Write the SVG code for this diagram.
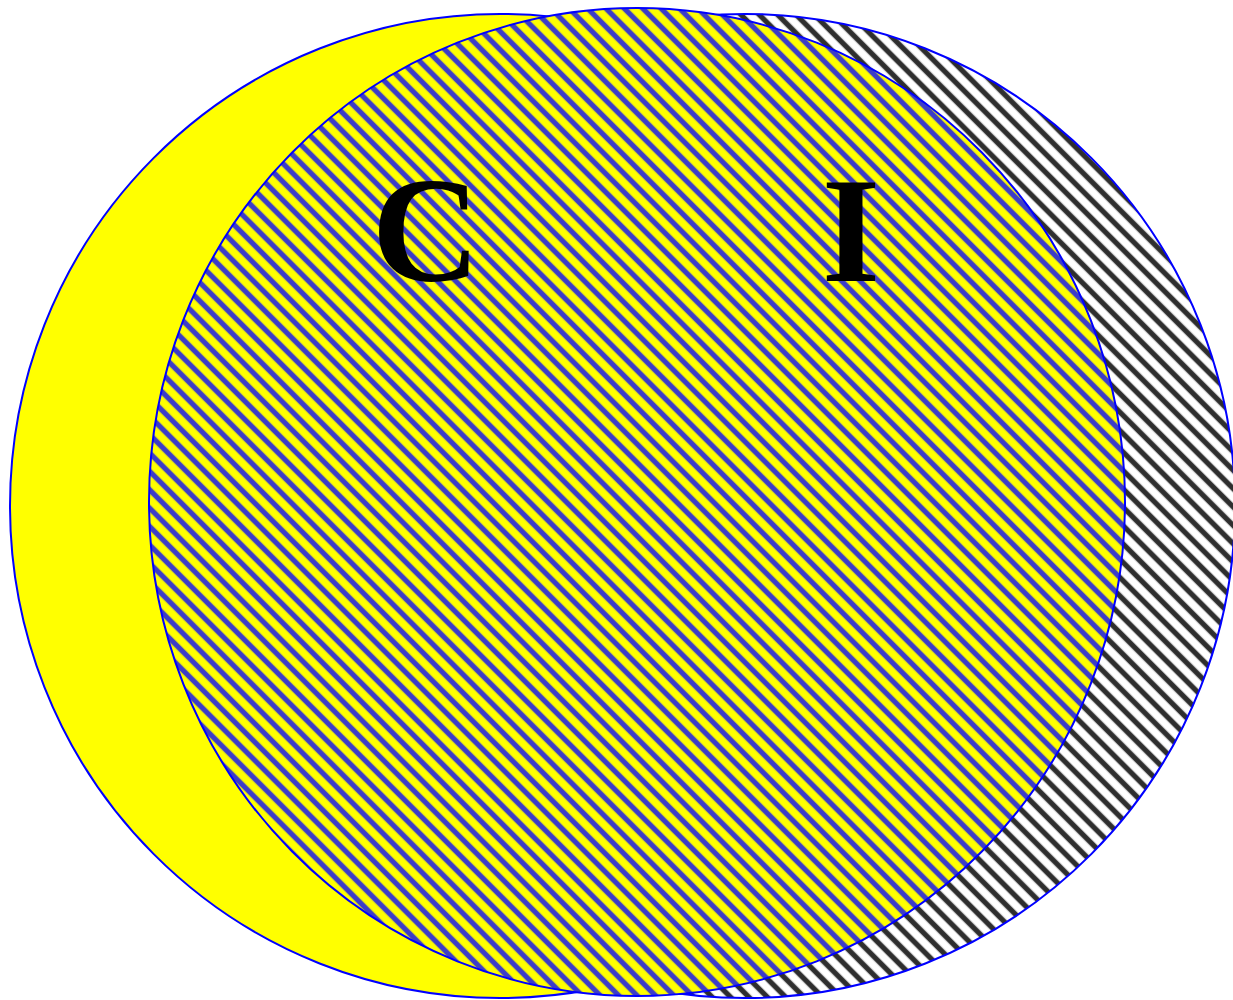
<svg xmlns="http://www.w3.org/2000/svg" width="1233" height="1000" viewBox="0 0 1233 1000">
  <style>
    .outline { stroke: #0000ff; stroke-width: 2; }
    .label { font-family: "Liberation Serif", "Times New Roman", serif; font-weight: bold; font-size: 150px; fill: #000000; text-anchor: middle; }
  </style>
  <defs>
    <linearGradient id="gBlue" x1="0" y1="0" x2="0" y2="1">
      <stop offset="0" stop-color="#ffff00"/>
      <stop offset="0.25" stop-color="#ffff00"/>
      <stop offset="0.35" stop-color="#3c3cc8"/>
      <stop offset="0.65" stop-color="#3c3cc8"/>
      <stop offset="0.75" stop-color="#ffff00"/>
      <stop offset="1" stop-color="#ffff00"/>
    </linearGradient>
    <linearGradient id="gBlack" x1="0" y1="0" x2="0" y2="1">
      <stop offset="0" stop-color="#ffffff"/>
      <stop offset="0.25" stop-color="#ffffff"/>
      <stop offset="0.35" stop-color="#2e2e2e"/>
      <stop offset="0.65" stop-color="#2e2e2e"/>
      <stop offset="0.75" stop-color="#ffffff"/>
      <stop offset="1" stop-color="#ffffff"/>
    </linearGradient>
    <pattern id="stripesBlue" patternUnits="userSpaceOnUse" width="13" height="13" patternTransform="rotate(45)">
      <rect width="13" height="13" fill="url(#gBlue)"/>
    </pattern>
    <pattern id="stripesBlack" patternUnits="userSpaceOnUse" width="13" height="13" patternTransform="rotate(45)">
      <rect width="13" height="13" fill="url(#gBlack)"/>
    </pattern>
  </defs>
  <rect width="1233" height="1000" fill="#ffffff"/>
  <g id="circle-I-back">
    <ellipse cx="745" cy="506" rx="490" ry="492" fill="url(#stripesBlack)" class="outline"/>
  </g>
  <g id="circle-C">
    <ellipse cx="500" cy="506" rx="490" ry="492" fill="#ffff00" class="outline"/>
  </g>
  <g id="circle-I">
    <ellipse cx="637" cy="502" rx="488" ry="494" fill="url(#stripesBlue)" class="outline"/>
  </g>
  <g id="labels">
    <text class="label" x="426" y="281">C</text>
    <text class="label" x="851" y="281">I</text>
  </g>
</svg>
